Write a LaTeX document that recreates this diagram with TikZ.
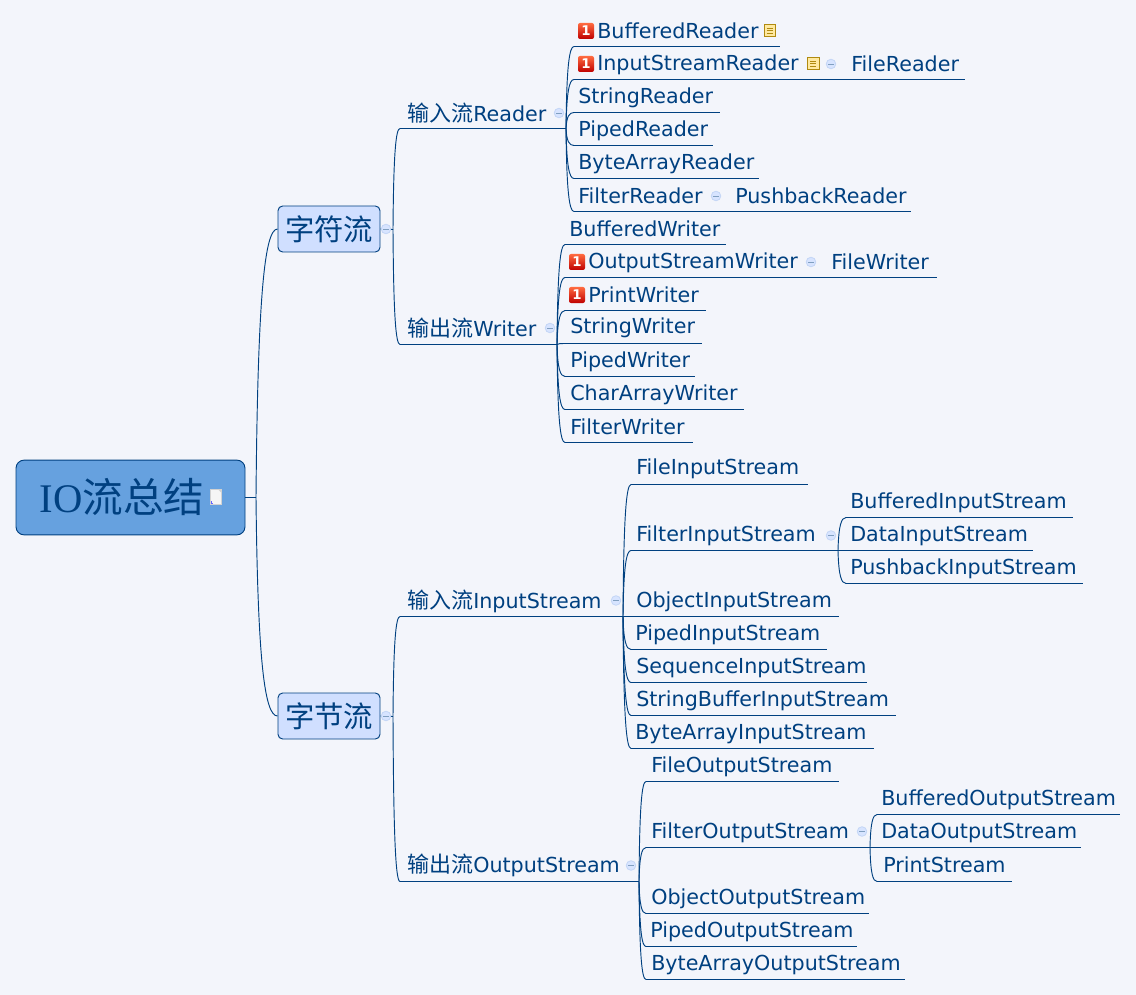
\documentclass[tikz,border=0pt]{standalone}
\usepackage{fontspec}
\setmainfont{DejaVu Sans}
\newfontfamily\cjk{Noto Sans CJK SC}
\newfontfamily\titlefont{Liberation Serif}
\usetikzlibrary{calc,positioning}
\definecolor{pagebg}{HTML}{F3F5FB}
\definecolor{linkblue}{HTML}{004080}
\definecolor{rootfill}{HTML}{66A1DF}
\definecolor{mainfill}{HTML}{D0DFFF}
\definecolor{foldline}{HTML}{C4D6F6}
\definecolor{notefill}{HTML}{FFE9A0}
\definecolor{noteline}{HTML}{B08A10}
\newcommand{\zh}[1]{{\fontsize{16.5}{18}\selectfont\cjk #1}}
\tikzset{
  topic/.style={anchor=base west,inner sep=0pt,text=linkblue,font=\fontsize{15.5}{18}\selectfont},
  rootbox/.style={draw=linkblue,fill=rootfill,line width=0.7pt,rounded corners=6pt,minimum width=171.75pt,minimum height=56pt,inner sep=0pt},
  mainbox/.style={draw=linkblue,fill=mainfill,line width=0.7pt,rounded corners=3.5pt,minimum width=76.5pt,minimum height=34.5pt,inner sep=0pt,text=linkblue,font=\fontsize{22}{24}\selectfont\cjk},
  foldmark/.style={circle,draw=foldline,fill=mainfill!85!white,line width=0.6pt,minimum size=7.2pt,inner sep=0pt,
    path picture={\draw[linkblue!50,line width=0.5pt] ([xshift=-2pt]path picture bounding box.center) -- ([xshift=2pt]path picture bounding box.center);}},
  badge/.style={rounded corners=1.5pt,top color=red!55!orange!75,bottom color=red!75!black,minimum width=12pt,minimum height=12pt,inner sep=0pt,text=white,font=\fontsize{10}{10}\selectfont\bfseries},
  noteicon/.style={draw=noteline,fill=notefill,line width=0.7pt,minimum width=8.5pt,minimum height=9.5pt,inner sep=0pt,
    path picture={\foreach \dy in {-1.8pt,0pt,1.8pt}{\draw[noteline,line width=0.5pt] ([xshift=-2.6pt,yshift=\dy]path picture bounding box.center) -- ([xshift=2.2pt,yshift=\dy]path picture bounding box.center);}}},
  docicon/.style={draw=gray!35,fill=white!92!gray,line width=0.4pt,minimum width=8.25pt,minimum height=11.25pt,inner sep=0pt,
    path picture={\fill[gray!35] (path picture bounding box.north east) -- ++(-2.5pt,0) -- ++(2.5pt,-2.5pt) -- cycle;
      \draw[blue!60,line width=0.5pt] ([shift={(1pt,2pt)}]path picture bounding box.south west) -- ([shift={(1pt,0.7pt)}]path picture bounding box.south west) -- ++(1.5pt,0);}},
  mapline/.style={draw=linkblue,line width=0.7pt}
}
\begin{document}
\begin{tikzpicture}[x=0.75pt,y=-0.75pt]
  \useasboundingbox (0,0) rectangle (1136,995);
  \fill[pagebg] (0,0) rectangle (1136,995);

  % root and the two main topics
  \node[rootbox] (root) at (130.5,497.5) {};
  \node[inner sep=0pt,text=linkblue,font=\fontsize{30.5}{32}\selectfont] (roottext) at (122,497.5) {{\titlefont IO}{\cjk 流总结}};
  \node[docicon] (rootdoc) at (215.5,496.5) {};
  \node[mainbox] (charstream) at (329,229) {字符流};
  \node[mainbox] (bytestream) at (329,716) {字节流};

  % junctions on the way out of the boxes
  \coordinate (roottrunk) at (256,497.5);
  \coordinate (chartrunk) at (393,229.5);
  \coordinate (bytetrunk) at (393,716.5);
  \draw[mapline] (root.east |- roottrunk) -- (roottrunk);
  \draw[mapline] (charstream.east) -- (chartrunk);
  \draw[mapline] (bytestream.east) -- (bytetrunk);

  % every underlined topic: name / line start / line end / line y / text x / baseline / text
  \foreach \nm/\xa/\xb/\yy/\xt/\yt/\lb in {
    reader/400/566/128.5/407/121.5/{\zh{输入流}Reader},
    writer/400/557/344.5/407/336.5/{\zh{输出流}Writer},
    instream/400/623/616.5/407/608.5/{\zh{输入流}InputStream},
    outstream/400/639/881.5/407/872.5/{\zh{输出流}OutputStream},
    bufreader/574/780/46.5/597/39/BufferedReader,
    isreader/574/838/79.5/597/70.5/InputStreamReader,
    filereader/838/965/79.5/851/71.5/FileReader,
    strreader/574/720/112.5/578/103.5/StringReader,
    pipereader/574/713/145.5/578/137/PipedReader,
    bytereader/574/759/178.5/578/170/ByteArrayReader,
    filtreader/574/728/211.5/578/204/FilterReader,
    pushreader/728/911/211.5/735/204/PushbackReader,
    bufwriter/565/726/244.5/569/236.5/BufferedWriter,
    oswriter/565/822/277.5/588/268.5/OutputStreamWriter,
    filewriter/822/937/277.5/831/269.5/FileWriter,
    printwriter/565/706/310.5/588/302.5/PrintWriter,
    strwriter/565/702/343.5/570/333/StringWriter,
    pipewriter/565/695/376.5/570/367/PipedWriter,
    chrwriter/565/744/409.5/570/400.5/CharArrayWriter,
    filtwriter/565/693/442.5/570/434.5/FilterWriter,
    fileinput/631/808/484.5/636/474/FileInputStream,
    filtinput/631/838/550.5/636/541.5/FilterInputStream,
    bufinput/846/1073/517.5/850/508/BufferedInputStream,
    datainput/838/1033/550.5/850/541.5/DataInputStream,
    pushinput/846/1083/583.5/850/574.5/PushbackInputStream,
    objinput/623/839/616.5/636/607.5/ObjectInputStream,
    pipeinput/631/827/649.5/635/640/PipedInputStream,
    seqinput/631/867/682.5/636/673.5/SequenceInputStream,
    sbinput/631/896/715.5/636/706.5/StringBufferInputStream,
    byteinput/631/874/748.5/635/739.5/ByteArrayInputStream,
    fileoutput/646/839/781.5/651/772/FileOutputStream,
    filtoutput/646/870/847.5/651/838/FilterOutputStream,
    bufoutput/877/1120/814.5/881/805.5/BufferedOutputStream,
    dataoutput/870/1081/847.5/881/838/DataOutputStream,
    printstream/877/1012/881.5/883/872.5/PrintStream,
    objoutput/646/869/913.5/651/904/ObjectOutputStream,
    pipeoutput/646/857/946.5/650/937/PipedOutputStream,
    byteoutput/646/905/979.5/651/970/ByteArrayOutputStream%
  }{
    \coordinate (\nm-l) at (\xa,\yy);
    \coordinate (\nm-r) at (\xb,\yy);
    \node[topic] (\nm) at (\xt,\yt) {\lb};
    \draw[mapline] (\nm-l) -- (\nm-r);
  }

  % curved branches
  \foreach \pa/\ch in {
    roottrunk/charstream.west,roottrunk/bytestream.west,
    chartrunk/reader-l,chartrunk/writer-l,bytetrunk/instream-l,bytetrunk/outstream-l,
    reader-r/bufreader-l,reader-r/isreader-l,reader-r/strreader-l,reader-r/pipereader-l,reader-r/bytereader-l,reader-r/filtreader-l,
    writer-r/bufwriter-l,writer-r/oswriter-l,writer-r/printwriter-l,writer-r/strwriter-l,writer-r/pipewriter-l,writer-r/chrwriter-l,writer-r/filtwriter-l,
    instream-r/fileinput-l,instream-r/filtinput-l,instream-r/pipeinput-l,instream-r/seqinput-l,instream-r/sbinput-l,instream-r/byteinput-l,
    filtinput-r/bufinput-l,filtinput-r/pushinput-l,
    outstream-r/fileoutput-l,outstream-r/filtoutput-l,outstream-r/objoutput-l,outstream-r/pipeoutput-l,outstream-r/byteoutput-l,
    filtoutput-r/bufoutput-l,filtoutput-r/printstream-l%
  }{
    \draw[mapline] let \p1=(\pa),\p2=(\ch) in
      (\pa) .. controls ({\x1+0.08*(\x2-\x1)},{\y1+0.75*(\y2-\y1)}) and ({\x1+0.4*(\x2-\x1)},\y2) .. (\ch);
  }

  % fold marks
  \foreach \nm/\fx/\fy in {fold1/386/229,fold2/386/716,fold3/559/113,fold4/550/328,fold5/616/600.5,fold6/631/865.5,
    fold7/831/64,fold8/716/196,fold9/811/262,fold10/831/535.5,fold11/862/831.5}{
    \node[foldmark] (\nm) at (\fx,\fy) {};
  }

  % priority and note icons
  \foreach \nm/\bx/\by in {badge1/586/31,badge2/586/64,badge3/577/262,badge4/577/295}{
    \node[badge] (\nm) at (\bx,\by) {1};
  }
  \node[noteicon] (note1) at (770,30.5) {};
  \node[noteicon] (note2) at (813.5,63.5) {};
\end{tikzpicture}
\end{document}
